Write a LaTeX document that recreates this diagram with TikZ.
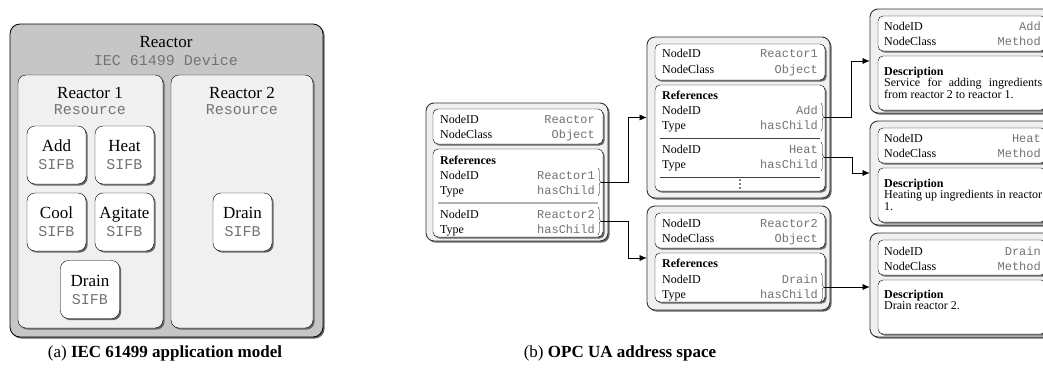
\documentclass[tikz,border=0pt]{standalone}
\usepackage{fontspec}
\setmainfont{Liberation Serif}
\setmonofont{Liberation Mono}
\usepackage{tikz}
\usetikzlibrary{positioning, fit, calc, arrows.meta, shadows, decorations.pathreplacing}
\tikzstyle{shd}=[drop shadow={shadow xshift=1.6pt, shadow yshift=-1.6pt, fill=black!60, opacity=1}]
\tikzstyle{device}=[draw, thick, rounded corners=10pt, fill=gray!45, shd, inner sep=0]
\tikzstyle{res}=[draw, rounded corners=8pt, fill=gray!12, shd, inner sep=0]
\tikzstyle{sifb}=[draw, rounded corners=8pt, fill=white, shd, minimum width=59pt, minimum height=58pt, align=center, font=\fontsize{17}{18}\selectfont, inner sep=0]
\tikzstyle{big}=[font=\fontsize{17}{18}\selectfont, inner sep=0]
\tikzstyle{bigtt}=[font=\fontsize{15}{18}\selectfont\ttfamily, text=black!55, inner sep=0]
\tikzstyle{uaobj}=[draw=black!80, line width=0.9pt, rounded corners=8pt, fill=gray!12, shd, inner sep=0]
\tikzstyle{uapart}=[draw, rounded corners=5pt, fill=white, shd, inner sep=0]
\tikzstyle{key}=[anchor=base west, inner sep=0, font=\fontsize{12}{14}\selectfont]
\tikzstyle{val}=[anchor=base east, inner sep=0, font=\fontsize{12}{14}\selectfont\ttfamily, text=black!55]
\tikzstyle{desc}=[anchor=north west, inner sep=0, text width=158pt, align=justify, font=\fontsize{12}{11.5}\selectfont]
\tikzstyle{brc}=[decorate, decoration={brace, amplitude=2.5pt}, thin]
\tikzstyle{link}=[->, thin]
\tikzstyle{caption}=[anchor=base, inner sep=0, font=\fontsize{17}{20}\selectfont]
\newcommand{\uarow}[6]{%
  \node[key] (#1k) at (#2,#4) {#5};
  \node[val] (#1v) at (#3,#4) {#6};}

\begin{document}
\begin{tikzpicture}[x=1pt, y=-1pt, >={Latex[length=7pt,width=6pt]}]
    \useasboundingbox (0,0) rectangle (1043,367);

    % IEC 61499 side
    \node [device, minimum width=313pt, minimum height=313pt] (dev) at (166.5,180.5) {};
    \node [big] (devname) at (166,42) {Reactor};
    \node [bigtt] (devtype) at (166,60) {IEC 61499 Device};
    \node [res, minimum width=145pt, minimum height=253pt] (res1) at (90.5,201.5) {};
    \node [res, minimum width=142pt, minimum height=253pt] (res2) at (242,201.5) {};
    \node [big] (res1name) at (90,93) {Reactor 1};
    \node [bigtt] (res1type) at (90,110) {Resource};
    \node [big] (res2name) at (242,93) {Reactor 2};
    \node [bigtt] (res2type) at (242,110) {Resource};
    \node [sifb] (fbadd) at (56.5,155) {Add\\\fontsize{15}{18}\selectfont\ttfamily\color{black!55}SIFB};
    \node [sifb] (fbheat) at (124.5,155) {Heat\\\fontsize{15}{18}\selectfont\ttfamily\color{black!55}SIFB};
    \node [sifb] (fbcool) at (56.5,222) {Cool\\\fontsize{15}{18}\selectfont\ttfamily\color{black!55}SIFB};
    \node [sifb] (fbagit) at (124.5,222) {Agitate\\\fontsize{15}{18}\selectfont\ttfamily\color{black!55}SIFB};
    \node [sifb] (fbdrain) at (90,289.5) {Drain\\\fontsize{15}{18}\selectfont\ttfamily\color{black!55}SIFB};
    \node [sifb] (fbdrain2) at (242.5,222) {Drain\\\fontsize{15}{18}\selectfont\ttfamily\color{black!55}SIFB};
    \node [caption] (capa) at (165,357) {(a) \textbf{IEC 61499 application model}};

    % OPC UA side: Reactor
    \node [uaobj, fit={(426,103) (608,241)}] (ua0) {};
    \node [uapart, fit={(433,109) (603,144)}] (ua0id) {};
    \node [uapart, fit={(433,149) (603,237)}] (ua0ref) {};
    \uarow{ua0a}{440}{595}{123}{NodeID}{Reactor}
    \uarow{ua0b}{440}{595}{138}{NodeClass}{Object}
    \node [key, font=\fontsize{12}{14}\selectfont\bfseries] (ua0r) at (440,164) {References};
    \uarow{ua0c}{440}{595}{179}{NodeID}{Reactor1}
    \uarow{ua0d}{440}{595}{194}{Type}{hasChild}
    \draw [gray!60, line width=1.5pt] (438,203) -- (598,203);
    \uarow{ua0e}{440}{595}{218}{NodeID}{Reactor2}
    \uarow{ua0f}{440}{595}{233}{Type}{hasChild}
    \draw [brc] (598,168) -- (598,196);
    \draw [brc] (598,207) -- (598,235);
    \coordinate (ua0o1) at (601,182);
    \coordinate (ua0o2) at (601,221);

    % Reactor1
    \node [uaobj, fit={(647,37) (830,198)}] (ua1) {};
    \node [uapart, fit={(655,44) (825,80)}] (ua1id) {};
    \node [uapart, fit={(655,85) (825,191)}] (ua1ref) {};
    \uarow{ua1a}{662}{818}{57}{NodeID}{Reactor1}
    \uarow{ua1b}{662}{818}{73}{NodeClass}{Object}
    \node [key, font=\fontsize{12}{14}\selectfont\bfseries] (ua1r) at (662,99) {References};
    \uarow{ua1c}{662}{818}{114}{NodeID}{Add}
    \uarow{ua1d}{662}{818}{129}{Type}{hasChild}
    \draw [black!75] (660,138) -- (820,138);
    \uarow{ua1e}{662}{818}{153}{NodeID}{Heat}
    \uarow{ua1f}{662}{818}{168}{Type}{hasChild}
    \draw [black!75] (660,177) -- (820,177);
    \foreach \y in {180,184,188}
        \fill (740,\y) circle (0.9pt);
    \draw [brc] (821,103) -- (821,131);
    \draw [brc] (821,142) -- (821,171);
    \coordinate (ua1o1) at (824,117);
    \coordinate (ua1o2) at (824,157);

    % Reactor2
    \node [uaobj, fit={(647,206) (830,310)}] (ua2) {};
    \node [uapart, fit={(655,213) (825,248)}] (ua2id) {};
    \node [uapart, fit={(655,253) (825,302)}] (ua2ref) {};
    \uarow{ua2a}{662}{818}{227}{NodeID}{Reactor2}
    \uarow{ua2b}{662}{818}{242}{NodeClass}{Object}
    \node [key, font=\fontsize{12}{14}\selectfont\bfseries] (ua2r) at (662,267) {References};
    \uarow{ua2c}{662}{818}{283}{NodeID}{Drain}
    \uarow{ua2d}{662}{818}{298}{Type}{hasChild}
    \draw [brc] (821,273) -- (821,301);
    \coordinate (ua2o1) at (824,287);

    % Methods
    \node [uaobj, fit={(870,9) (1052,113)}] (mAdd) {};
    \node [uapart, fit={(878,16) (1046,51)}] (mAddid) {};
    \node [uapart, fit={(878,56) (1046,110)}] (mAdddesc) {};
    \uarow{mAdda}{884}{1041}{30}{NodeID}{Add}
    \uarow{mAddb}{884}{1041}{45}{NodeClass}{Method}
    \node [desc] (mAddtxt) at (884,66.5) {\textbf{Description}\\ Service for adding ingredients from reactor 2 to reactor 1.};

    \node [uaobj, fit={(870,121) (1052,225)}] (mHeat) {};
    \node [uapart, fit={(878,128) (1046,163)}] (mHeatid) {};
    \node [uapart, fit={(878,168) (1046,222)}] (mHeatdesc) {};
    \uarow{mHeata}{884}{1041}{142}{NodeID}{Heat}
    \uarow{mHeatb}{884}{1041}{157}{NodeClass}{Method}
    \node [desc] (mHeattxt) at (884,178.5) {\textbf{Description}\\ Heating up ingredients in reactor 1.};

    \node [uaobj, fit={(870,233) (1052,337)}] (mDrain) {};
    \node [uapart, fit={(878,240) (1046,275)}] (mDrainid) {};
    \node [uapart, fit={(878,280) (1046,334)}] (mDraindesc) {};
    \uarow{mDraina}{884}{1041}{255}{NodeID}{Drain}
    \uarow{mDrainb}{884}{1041}{270}{NodeClass}{Method}
    \node [desc] (mDraintxt) at (884,289.5) {\textbf{Description}\\ Drain reactor 2.};

    \draw [link] (ua0o1) -- ++(27,0) |- (ua1.west);
    \draw [link] (ua0o2) -- ++(27,0) |- (ua2.west);
    \draw [link] (ua1o1) -- ++(27,0) |- (mAdd.west);
    \draw [link] (ua1o2) -- ++(28,0) |- (mHeat.west);
    \draw [link] (ua2o1) -- (ua2o1 -| mDrain.west);

    \node [caption] (capb) at (620,357) {(b) \textbf{OPC UA address space}};
\end{tikzpicture}
\end{document}
